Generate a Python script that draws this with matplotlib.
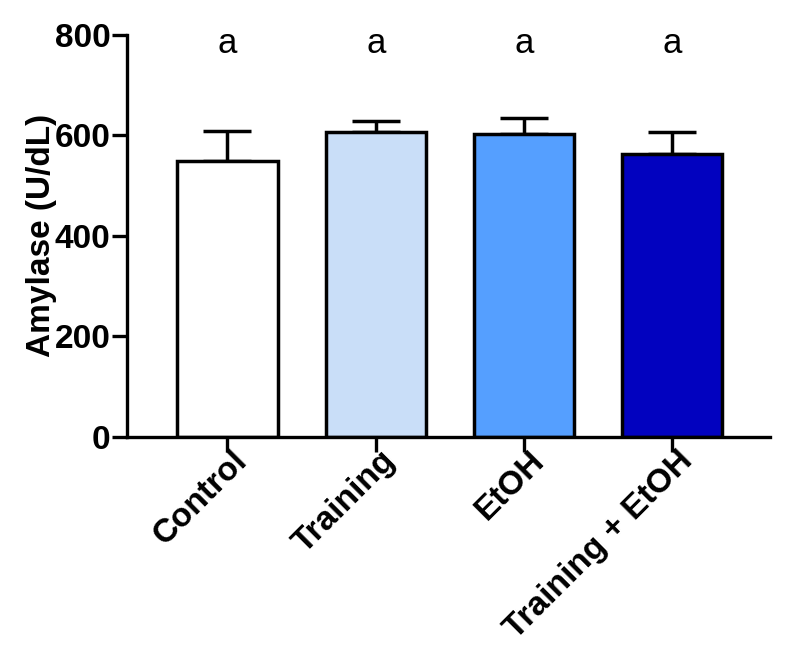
import numpy as np
import matplotlib
matplotlib.use("Agg")
import matplotlib.pyplot as plt

# --- Data ---
groups = ["Control", "Training", "EtOH", "Training + EtOH"]
means = [549, 606, 602, 562]
sems = [60, 23, 33, 44]
letters = ["a", "a", "a", "a"]
colors = ["#FFFFFF", "#C9DEF8", "#559FFF", "#0202BF"]

plt.rcParams.update({
    "font.family": ["Liberation Sans", "DejaVu Sans"],
    "font.size": 24,
    "font.weight": "bold",
})

fig = plt.figure(figsize=(7.9, 6.52), dpi=100)
ax = fig.add_axes([0.161, 0.330, 0.814, 0.617])

x = np.arange(len(groups))
lw = 2.5
ax.bar(x, means, width=0.676, color=colors, edgecolor="black", linewidth=lw, zorder=2)
ax.errorbar(x, means, yerr=[np.zeros(len(sems)), sems], fmt="none", ecolor="black",
            elinewidth=lw, capsize=17, capthick=lw, zorder=1)

for xi, lab in zip(x, letters):
    ax.text(xi, 782, lab, ha="center", va="center", fontsize=25, fontweight="normal")

ax.set_xlim(-0.676, 3.66)
ax.set_ylim(0, 800)
ax.set_yticks([0, 200, 400, 600, 800])
ax.set_xticks(x)
ax.set_xticklabels([])

# rotated group labels, anchored a bit right of each tick
for xi, g in zip(x, groups):
    ax.annotate(g, xy=(xi, 0), xycoords=("data", "axes fraction"),
                xytext=(11, -14), textcoords="offset points",
                rotation=45, ha="right", va="center", rotation_mode="anchor",
                fontsize=24, fontweight="bold", annotation_clip=False)

for s in ["top", "right"]:
    ax.spines[s].set_visible(False)
for s in ["left", "bottom"]:
    ax.spines[s].set_linewidth(2.4)
ax.tick_params(axis="both", width=2.4, length=11, labelsize=24)
ax.tick_params(axis="y", pad=1)
ax.set_ylabel("Amylase (U/dL)", fontsize=24, fontweight="bold", labelpad=-2)

fig.savefig("out.png", dpi=100)
